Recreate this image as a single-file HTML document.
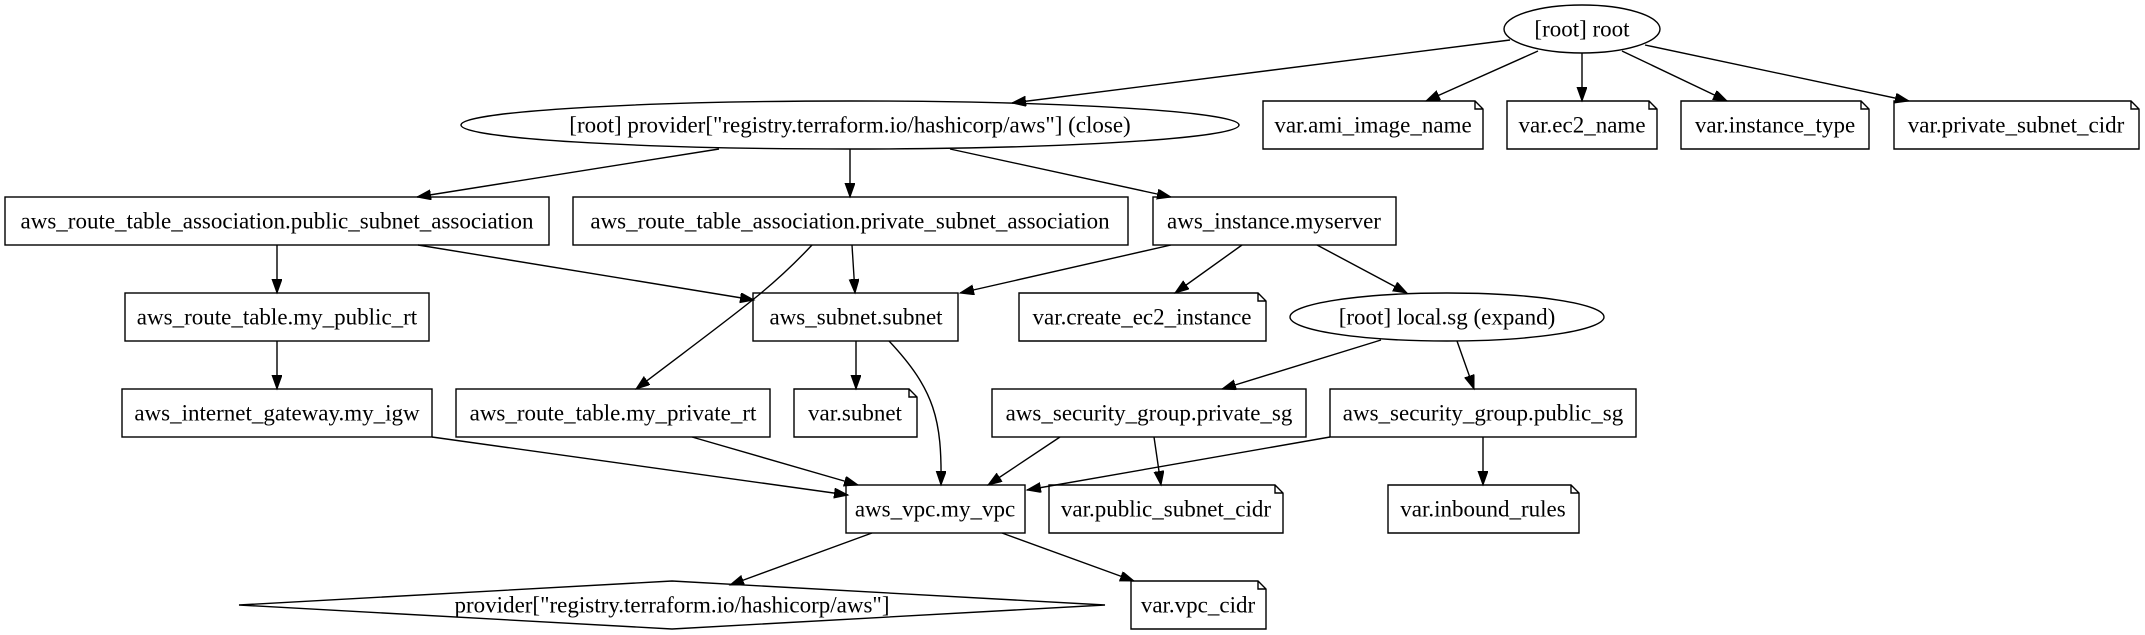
<!DOCTYPE html>
<html><head><meta charset="utf-8"><style>
html,body{margin:0;padding:0;background:#fff;}
svg{display:block;}
text{font-family:"Liberation Serif",serif;font-size:23px;fill:#000;text-anchor:middle;dominant-baseline:central;}
.n{fill:none;stroke:#000;stroke-width:1.4;}
.e{fill:none;stroke:#000;stroke-width:1.4;marker-end:url(#a);}
</style></head><body>
<svg width="2145" height="635" viewBox="0 0 2145 635" xmlns="http://www.w3.org/2000/svg">
<defs><marker id="a" markerUnits="userSpaceOnUse" markerWidth="16" markerHeight="12" refX="14" refY="5" orient="auto"><path d="M0,0 L14,5 L0,10 Z" fill="#000" stroke="#000"/></marker></defs>

<!-- edges -->
<line class="e" x1="1510" y1="40" x2="1012" y2="103"/>
<line class="e" x1="1538" y1="51" x2="1426" y2="101"/>
<line class="e" x1="1582" y1="53" x2="1582" y2="101"/>
<line class="e" x1="1622" y1="51" x2="1727" y2="101"/>
<line class="e" x1="1645" y1="45" x2="1909" y2="101"/>
<line class="e" x1="719" y1="149" x2="417" y2="197"/>
<line class="e" x1="850" y1="149" x2="850" y2="197"/>
<line class="e" x1="950" y1="149" x2="1171" y2="197"/>
<line class="e" x1="277" y1="245" x2="277" y2="293"/>
<line class="e" x1="418" y1="245" x2="754" y2="300"/>
<line class="e" x1="852" y1="245" x2="855" y2="293"/>
<path class="e" d="M812,245 C770,290 740,310 636,389"/>
<line class="e" x1="1171" y1="245" x2="960" y2="293"/>
<line class="e" x1="1242" y1="245" x2="1175" y2="293"/>
<line class="e" x1="1317" y1="245" x2="1407" y2="293"/>
<line class="e" x1="277" y1="341" x2="277" y2="389"/>
<line class="e" x1="856" y1="341" x2="856" y2="389"/>
<path class="e" d="M889,341 C935,390 942,420 941,485"/>
<line class="e" x1="1381" y1="340" x2="1222" y2="389"/>
<line class="e" x1="1457" y1="341" x2="1474" y2="389"/>
<line class="e" x1="432" y1="437" x2="848" y2="495"/>
<line class="e" x1="692" y1="437" x2="858" y2="485"/>
<line class="e" x1="1060" y1="437" x2="988" y2="485"/>
<line class="e" x1="1154" y1="437" x2="1161" y2="485"/>
<line class="e" x1="1330" y1="437" x2="1027" y2="490"/>
<line class="e" x1="1483" y1="437" x2="1483" y2="485"/>
<line class="e" x1="872" y1="533" x2="730" y2="585"/>
<line class="e" x1="1002" y1="533" x2="1134" y2="581"/>

<!-- nodes -->
<ellipse class="n" cx="1582" cy="29" rx="78" ry="24"/><text x="1582" y="29">[root] root</text>
<ellipse class="n" cx="850" cy="125" rx="389" ry="24"/><text x="850" y="125">[root] provider["registry.terraform.io/hashicorp/aws"] (close)</text>

<path class="n" d="M1263,101 H1475 L1483,109 V149 H1263 Z M1475,101 V109 H1483"/><text x="1373" y="125">var.ami_image_name</text>
<path class="n" d="M1507,101 H1649 L1657,109 V149 H1507 Z M1649,101 V109 H1657"/><text x="1582" y="125">var.ec2_name</text>
<path class="n" d="M1681,101 H1861 L1869,109 V149 H1681 Z M1861,101 V109 H1869"/><text x="1775" y="125">var.instance_type</text>
<path class="n" d="M1894,101 H2131 L2139,109 V149 H1894 Z M2131,101 V109 H2139"/><text x="2016" y="125">var.private_subnet_cidr</text>

<rect class="n" x="5" y="197" width="544" height="48"/><text x="277" y="221">aws_route_table_association.public_subnet_association</text>
<rect class="n" x="573" y="197" width="555" height="48"/><text x="850" y="221">aws_route_table_association.private_subnet_association</text>
<rect class="n" x="1153" y="197" width="243" height="48"/><text x="1274" y="221">aws_instance.myserver</text>

<rect class="n" x="125" y="293" width="304" height="48"/><text x="277" y="317">aws_route_table.my_public_rt</text>
<rect class="n" x="753" y="293" width="205" height="48"/><text x="856" y="317">aws_subnet.subnet</text>
<path class="n" d="M1019,293 H1258 L1266,301 V341 H1019 Z M1258,293 V301 H1266"/><text x="1142" y="317">var.create_ec2_instance</text>
<ellipse class="n" cx="1447" cy="317" rx="157" ry="24"/><text x="1447" y="317">[root] local.sg (expand)</text>

<rect class="n" x="122" y="389" width="310" height="48"/><text x="277" y="413">aws_internet_gateway.my_igw</text>
<rect class="n" x="456" y="389" width="314" height="48"/><text x="613" y="413">aws_route_table.my_private_rt</text>
<path class="n" d="M794,389 H909 L917,397 V437 H794 Z M909,389 V397 H917"/><text x="855" y="413">var.subnet</text>
<rect class="n" x="992" y="389" width="314" height="48"/><text x="1149" y="413">aws_security_group.private_sg</text>
<rect class="n" x="1330" y="389" width="306" height="48"/><text x="1483" y="413">aws_security_group.public_sg</text>

<rect class="n" x="846" y="485" width="179" height="48"/><text x="935" y="509">aws_vpc.my_vpc</text>
<path class="n" d="M1049,485 H1275 L1283,493 V533 H1049 Z M1275,485 V493 H1283"/><text x="1166" y="509">var.public_subnet_cidr</text>
<path class="n" d="M1388,485 H1571 L1579,493 V533 H1388 Z M1571,485 V493 H1579"/><text x="1483" y="509">var.inbound_rules</text>

<polygon class="n" points="672,581 1105,605 672,629 239,605"/><text x="672" y="605">provider["registry.terraform.io/hashicorp/aws"]</text>
<path class="n" d="M1131,581 H1258 L1266,589 V629 H1131 Z M1258,581 V589 H1266"/><text x="1198" y="605">var.vpc_cidr</text>
</svg>
</body></html>
